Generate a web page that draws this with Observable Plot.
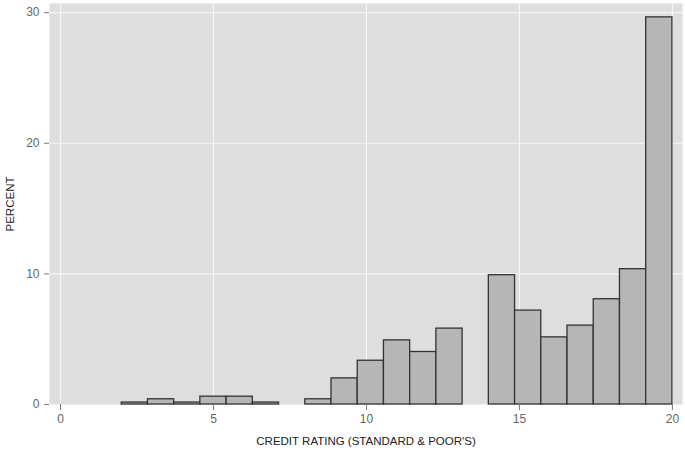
<!DOCTYPE html>
<html>
<head>
<meta charset="utf-8">
<script src="https://cdn.jsdelivr.net/npm/d3@7"></script>
<script src="https://cdn.jsdelivr.net/npm/@observablehq/plot@0.6"></script>
<style>
  body { margin: 0; background: #ffffff; }
  #chart svg { display: block; }
</style>
</head>
<body>
<div id="chart"></div>
<script>
// Histogram of credit ratings: 21 equal bins from 2 to 20
const binLow = 2;
const binHigh = 20;
const binCount = 21;
const percent = [0.15, 0.4, 0.15, 0.6, 0.6, 0.15, 0, 0.4, 2.0, 3.35, 4.91, 4.02, 5.81, 0, 9.9, 7.19, 5.14, 6.04, 8.06, 10.36, 29.64];
const xTicks = [0, 5, 10, 15, 20];
const yTicks = [0, 10, 20, 30];
const xLabel = "CREDIT RATING (STANDARD & POOR'S)";
const yLabel = "PERCENT";

const binWidth = (binHigh - binLow) / binCount;
const bins = percent.map((p, i) => ({
  x1: binLow + i * binWidth,
  x2: binLow + (i + 1) * binWidth,
  pct: p
})).filter(d => d.pct > 0);

const chart = Plot.plot({
  width: 685,
  height: 451,
  marginLeft: 49,
  marginRight: 3,
  marginTop: 3,
  marginBottom: 47,
  style: { fontFamily: "'Liberation Sans', Arial, sans-serif", fontSize: "12px", background: "#ffffff" },
  x: { domain: [-0.36, 20.33] },
  y: { domain: [0, 30.7] },
  marks: [
    Plot.frame({ fill: "#dedede", stroke: "none" }),
    Plot.gridX(xTicks, { stroke: "#f6f6f6", strokeOpacity: 1, strokeWidth: 1.2 }),
    Plot.gridY(yTicks.filter(t => t > 0), { stroke: "#f6f6f6", strokeOpacity: 1, strokeWidth: 1.2 }),
    Plot.rectY(bins, { x1: "x1", x2: "x2", y: "pct", fill: "#b6b6b6", stroke: "#333", strokeWidth: 1.3, inset: 0 }),
    Plot.axisX(xTicks, { tickSize: 6, tickPadding: 4, stroke: "#777", color: "#666", fontSize: 12, label: null }),
    Plot.axisX([], { tickSize: 0, color: "#222", fontSize: 11.5,
      label: xLabel, labelAnchor: "center", labelArrow: "none", labelOffset: 40 }),
    Plot.axisY(yTicks, { tickSize: 5, tickPadding: 5, stroke: "#777", color: "#666", fontSize: 12, label: null }),
    Plot.axisY([], { tickSize: 0, color: "#222", fontSize: 11.5,
      label: yLabel, labelAnchor: "center", labelArrow: "none", labelOffset: 44 })
  ]
});
document.getElementById("chart").append(chart);
</script>
</body>
</html>
